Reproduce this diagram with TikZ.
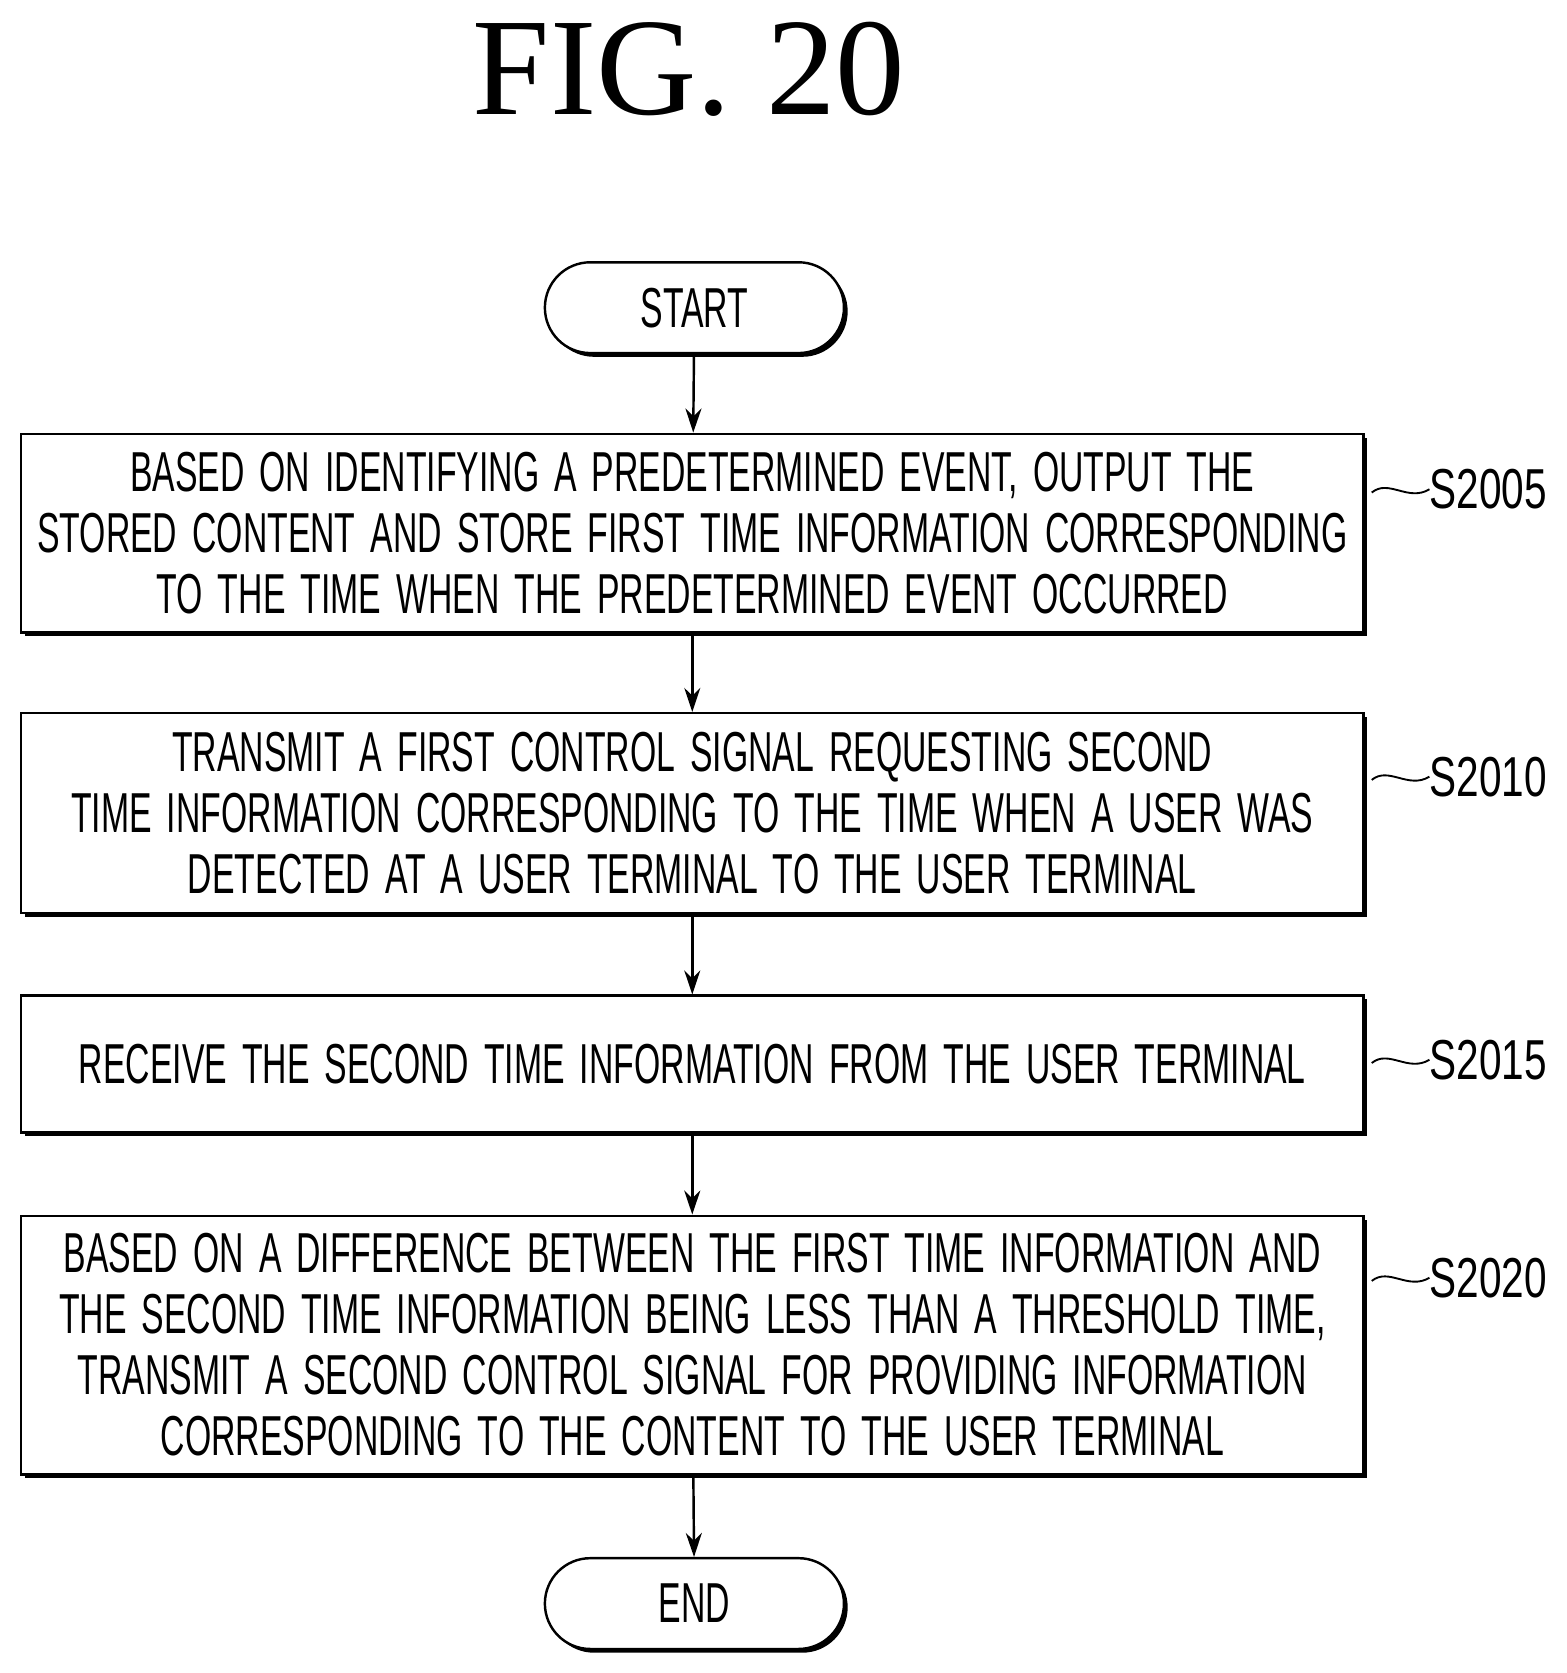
\documentclass[tikz,border=0pt]{standalone}
\usepackage{fontspec}
\setmainfont{Liberation Sans}[FakeStretch=0.6,WordSpace=1.6]
\newfontfamily\labfont{Liberation Sans}[FakeStretch=0.72]
\newfontfamily\titlefont{Liberation Serif}
\usetikzlibrary{shadows,arrows.meta}
\begin{document}
\begin{tikzpicture}[x=0.02cm,y=-0.02cm,
  sh/.style={drop shadow={shadow xshift=0.07cm,shadow yshift=-0.07cm,fill=black,opacity=1}},
  box/.style={draw,line width=1.3pt,fill=white,sh,minimum width=25.14cm,align=center,
     font=\fontsize{30}{32.5}\selectfont,inner sep=0pt},
  term/.style={draw,line width=1.3pt,fill=white,sh,rounded corners=0.85cm,minimum width=5.6cm,
     minimum height=1.7cm,font=\fontsize{30}{32}\selectfont},
  arr/.style={line width=1.3pt,-{Stealth[length=0.45cm,width=0.3cm]}},
  lab/.style={font=\labfont\fontsize{30}{32}\selectfont,anchor=west},
  wig/.style={line width=1pt}]
\useasboundingbox (0,0) rectangle (1466,1566);
\node[font=\titlefont\fontsize{74}{76}\selectfont] (title) at (645,65) {FIG. 20};
\node[term] (start) at (650,288) {START};
\node[box,minimum height=3.72cm] (b1) at (648,499) {BASED ON IDENTIFYING A PREDETERMINED EVENT, OUTPUT THE\\STORED CONTENT AND STORE FIRST TIME INFORMATION CORRESPONDING\\TO THE TIME WHEN THE PREDETERMINED EVENT OCCURRED};
\node[box,minimum height=3.74cm] (b2) at (648,761) {TRANSMIT A FIRST CONTROL SIGNAL REQUESTING SECOND\\TIME INFORMATION CORRESPONDING TO THE TIME WHEN A USER WAS\\DETECTED AT A USER TERMINAL TO THE USER TERMINAL};
\node[box,minimum height=2.56cm] (b3) at (648,996) {RECEIVE THE SECOND TIME INFORMATION FROM THE USER TERMINAL};
\node[box,minimum height=4.84cm] (b4) at (648,1259) {BASED ON A DIFFERENCE BETWEEN THE FIRST TIME INFORMATION AND\\THE SECOND TIME INFORMATION BEING LESS THAN A THRESHOLD TIME,\\TRANSMIT A SECOND CONTROL SIGNAL FOR PROVIDING INFORMATION\\CORRESPONDING TO THE CONTENT TO THE USER TERMINAL};
\node[term] (end) at (650,1501) {END};
\draw[arr] (start) -- (b1);
\draw[arr] (b1) -- (b2);
\draw[arr] (b2) -- (b3);
\draw[arr] (b3) -- (b4);
\draw[arr] (b4) -- (end);
\foreach \n/\y/\t in {l1/458/S2005,l2/727/S2010,l3/992/S2015,l4/1196/S2020}{
  \node[lab,inner sep=0pt] (\n) at (1338,\y) {\t};
  \coordinate (\n w) at (1284,\y+3);
  \draw[wig] (\n w) .. controls (1300,\y-10) and (1318,\y+12) .. (\n.west);
}
\end{tikzpicture}
\end{document}
